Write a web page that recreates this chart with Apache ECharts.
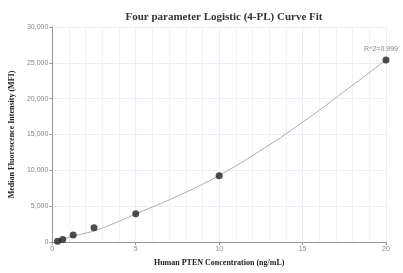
<!DOCTYPE html>
<html><head><meta charset="utf-8">
<script src="https://cdn.jsdelivr.net/npm/echarts@6/dist/echarts.min.js"></script>
<style>html,body{margin:0;padding:0;background:#fff}#c{width:403px;height:273px}</style>
</head><body><div id="c"></div>
<script>
const conc = [0.3125, 0.625, 1.25, 2.5, 5, 10, 20];
const mfi = [120, 350, 980, 2000, 3950, 9250, 25400];
const curveX = [0.3125, 0.625, 1.25, 2.5, 3.75, 5, 7.5, 10, 12.5, 15, 17.5, 20];
const curveY = [180, 400, 820, 1550, 2650, 3900, 6400, 9300, 12800, 16700, 21000, 25400];
const r2Text = 'R^2=0.999';

const chart = echarts.init(document.getElementById('c'));
const serif = '"Liberation Serif", "DejaVu Serif", serif';
chart.setOption({
  animation: false,
  title: {
    text: 'Four parameter Logistic (4-PL) Curve Fit',
    left: 219, top: 7, textAlign: 'center',
    textStyle: {fontFamily: serif, fontWeight: 'bold', fontSize: 11, color: '#333'}
  },
  grid: {left: 52, right: 17, top: 27, bottom: 31},
  xAxis: {
    type: 'value', min: 0, max: 20, interval: 5,
    name: 'Human PTEN Concentration (ng/mL)', nameLocation: 'middle', nameGap: 17,
    nameTextStyle: {fontFamily: serif, fontWeight: 'bold', fontSize: 8, color: '#222'},
    axisLine: {show: true, lineStyle: {color: '#999'}},
    axisTick: {show: true, length: 3, lineStyle: {color: '#999'}},
    axisLabel: {fontSize: 7, color: '#888', margin: 4},
    splitLine: {show: true, lineStyle: {color: '#ebedf7'}},
    minorTick: {show: false, splitNumber: 5},
    minorSplitLine: {show: true, lineStyle: {color: '#f1f2f9'}}
  },
  yAxis: {
    type: 'value', min: 0, max: 30000, interval: 5000,
    name: 'Median Fluorescence Intensity (MFI)', nameLocation: 'middle', nameGap: 31,
    nameTextStyle: {fontFamily: serif, fontWeight: 'bold', fontSize: 8, color: '#222'},
    axisLine: {show: true, lineStyle: {color: '#999'}},
    axisTick: {show: true, length: 3, lineStyle: {color: '#999'}},
    axisLabel: {fontSize: 7, color: '#888', margin: 4,
      formatter: v => v.toLocaleString('en-US')},
    splitLine: {show: true, lineStyle: {color: '#ebedf7'}}
  },
  series: [
    {
      type: 'line', smooth: true, symbol: 'none',
      data: curveX.map((x, i) => [x, curveY[i]]),
      lineStyle: {color: '#aaa', width: 1}, z: 1
    },
    {
      type: 'scatter', symbolSize: 7,
      itemStyle: {color: '#222'},
      data: conc.map((x, i) => {
        const d = {value: [x, mfi[i]]};
        if (i === conc.length - 1) {
          d.label = {show: true, position: 'top', offset: [-5, 1], formatter: r2Text,
            fontSize: 7, color: '#666'};
        }
        return d;
      }),
      z: 2
    }
  ]
});
</script></body></html>
